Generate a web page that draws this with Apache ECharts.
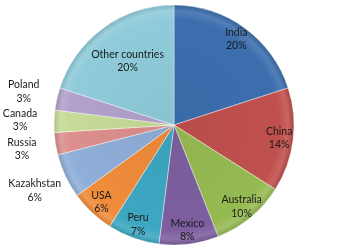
<!DOCTYPE html>
<html>
<head>
<meta charset="utf-8">
<script src="https://cdn.jsdelivr.net/npm/echarts@6/dist/echarts.min.js"></script>
<style>
html,body{margin:0;padding:0;background:#fff;}
#c{width:345px;height:250px;}
</style>
</head>
<body>
<div id="c"></div>
<script>
const countries = ['India','China','Australia','Mexico','Peru','USA','Kazakhstan','Russia','Canada','Poland','Other countries'];
const shares = [20,14,10,8,7,6,6,3,3,3,20];
const sliceColors = ['#3C6EAE','#C0504D','#96BA52','#7D5F9F','#3DA7C1','#F08C3A','#8FAED8','#DC8F8D','#C6DB97','#B2A1CB','#8FCBDA'];
const outsideLabels = ['Kazakhstan','Russia','Canada','Poland'];
const leaderLines = ['Russia','Canada','Poland'];
const innerWide = ['Other countries'];

const center = [174,125];
const R = 120;
const font = {fontFamily:'Lato', fontSize:10.5, color:'#1a1a1a', lineHeight:13.5};

function shade(hex, f){
  const n = parseInt(hex.slice(1),16);
  let r=(n>>16)&255, g=(n>>8)&255, b=n&255;
  const adj = c => Math.max(0, Math.min(255, Math.round(f>0 ? c+(255-c)*f : c*(1+f))));
  return 'rgb('+adj(r)+','+adj(g)+','+adj(b)+')';
}
function fill(c){
  return {type:'radial', x:center[0], y:center[1], r:R, global:true, colorStops:[
    {offset:0, color:shade(c,-0.04)},
    {offset:0.88, color:c},
    {offset:0.95, color:shade(c,0.12)},
    {offset:1, color:shade(c,-0.12)}
  ]};
}
function baseData(fn){
  return countries.map((n,i)=>Object.assign({name:n, value:shares[i]}, fn(n,i)));
}
const fmt = p => p.name + '\n' + p.value + '%';
const transparentBase = {
  type:'pie', center:center, startAngle:90, clockwise:true, silent:true,
  avoidLabelOverlap:false, itemStyle:{color:'rgba(0,0,0,0)'},
  labelLine:{show:false}, emphasis:{disabled:true}, z:5
};

const option = {
  animation:false,
  series:[
    {
      type:'pie', center:center, radius:[0,R], startAngle:90, clockwise:true,
      avoidLabelOverlap:false, silent:true,
      labelLayout:{hideOverlap:false},
      label:{show:false, position:'outside', formatter:' ', fontSize:1},
      labelLine:{show:true, length:12, length2:1, lineStyle:{color:'#222', width:1}},
      itemStyle:{borderColor:'rgba(255,255,255,0.5)', borderWidth:0.8},
      data: baseData((n,i)=>{
        const o = {itemStyle:{color:fill(sliceColors[i])}};
        if (leaderLines.includes(n)) {
          o.label = {show:true};
        }
        return o;
      })
    },
    Object.assign({}, transparentBase, {
      radius:[86,R],
      label:Object.assign({show:true, position:'inside', formatter:fmt}, font),
      data: baseData(n=>({label:{show: !outsideLabels.includes(n) && !innerWide.includes(n)}}))
    }),
    Object.assign({}, transparentBase, {
      radius:[32,R],
      label:Object.assign({show:true, position:'inside', formatter:fmt}, font),
      data: baseData(n=>({label:{show: innerWide.includes(n)}}))
    }),
    Object.assign({}, transparentBase, {
      radius:[40,262],
      label:Object.assign({show:true, position:'inside', formatter:fmt}, font),
      data: baseData(n=>({label:{show: outsideLabels.includes(n)}}))
    })
  ]
};
const chart = echarts.init(document.getElementById('c'), null, {renderer:'canvas'});
chart.setOption(option);
</script>
</body>
</html>
